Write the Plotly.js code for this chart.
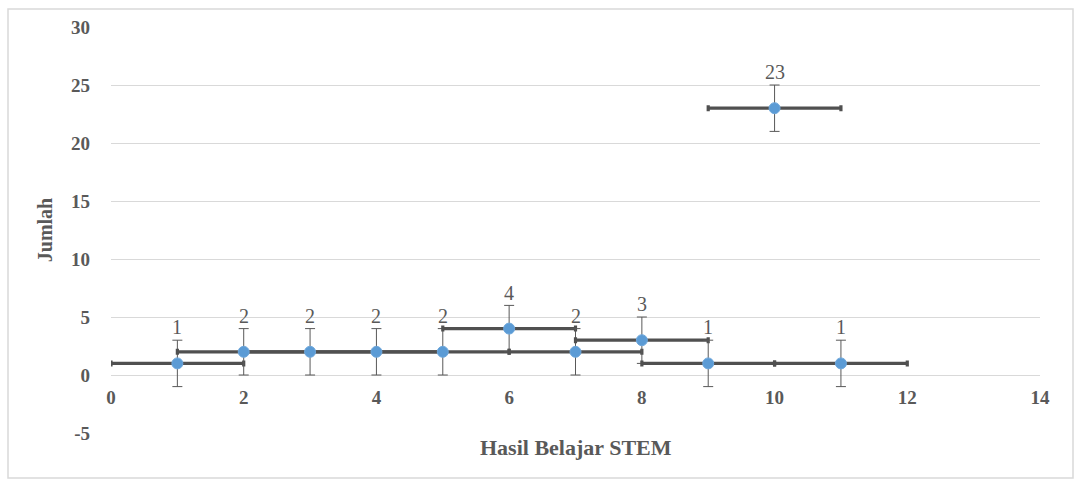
<!DOCTYPE html>
<html>
<head>
<meta charset="utf-8">
<script src="https://cdn.plot.ly/plotly-3.0.1.min.js"></script>
<style>
  html, body { margin: 0; padding: 0; background: #ffffff; }
  #chart { width: 1080px; height: 480px; }
</style>
</head>
<body>
<div id="chart"></div>
<script>
// Score (Hasil Belajar STEM) and count (Jumlah)
const nilai = [1, 2, 3, 4, 5, 6, 7, 8, 9, 10, 11];
const jumlah = [1, 2, 2, 2, 2, 4, 2, 3, 1, 23, 1];
// Symmetric error amounts on each axis
const galatX = 1;
const galatY = 2;

const xTicks = [0, 2, 4, 6, 8, 10, 12, 14];
const yTicks = [-5, 0, 5, 10, 15, 20, 25, 30];

const serif = '"Liberation Serif", "Times New Roman", serif';
const yMin = -5, yMax = 30;

const trace = {
  type: 'scatter',
  mode: 'markers',
  x: nilai,
  y: jumlah,
  marker: { color: '#5b9bd5', size: 11, line: { color: '#6fa8dc', width: 1 } },
  error_x: { type: 'constant', value: galatX, color: '#505050', thickness: 3.2, width: 3 },
  error_y: { type: 'constant', value: galatY, color: '#595959', thickness: 1, width: 5 },
  hoverinfo: 'x+y'
};

// Value labels above each point
const labels = nilai.map((xv, i) => ({
  x: xv, y: jumlah[i], xref: 'x', yref: 'y',
  text: String(jumlah[i]), showarrow: false,
  yshift: 36, yanchor: 'middle',
  font: { family: serif, size: 20, color: '#595959' }
}));

labels.push({
  x: 0.5, y: (433 - 448) / 406, xref: 'paper', yref: 'paper',
  text: '<b>Hasil Belajar STEM</b>', showarrow: false,
  xanchor: 'center', yanchor: 'middle',
  font: { family: serif, size: 22, color: '#595959' }
});

const layout = {
  width: 1080, height: 480,
  margin: { l: 111, r: 40, t: 27, b: 47 },
  paper_bgcolor: '#ffffff', plot_bgcolor: '#ffffff',
  showlegend: false,
  xaxis: {
    range: [0, 14], tickvals: xTicks, ticktext: xTicks.map(v => '<b>' + v + '</b>'),
    showgrid: false, zeroline: false, showline: false, ticks: '',
    anchor: 'free', position: (0 - yMin) / (yMax - yMin),
    ticklabelstandoff: 9,
    tickfont: { family: serif, size: 19, color: '#595959' }
  },
  yaxis: {
    range: [yMin, yMax], tickvals: yTicks, ticktext: yTicks.map(v => '<b>' + v + '</b>'),
    showgrid: true, gridcolor: '#d9d9d9', gridwidth: 1,
    zeroline: false, showline: false, ticks: '',
    ticklabelstandoff: 20,
    tickfont: { family: serif, size: 19, color: '#595959' },
    title: { text: '<b>Jumlah</b>', standoff: 13, font: { family: serif, size: 20, color: '#595959' } }
  },
  annotations: labels,
  shapes: [{
    type: 'rect', xref: 'paper', yref: 'paper',
    x0: (8 - 111) / 929, x1: (1073 - 111) / 929,
    y0: (433 - 478) / 406, y1: (433 - 9) / 406,
    line: { color: '#d9d9d9', width: 1.5 }, fillcolor: 'rgba(0,0,0,0)', layer: 'below'
  }]
};

Plotly.newPlot('chart', [trace], layout, { displayModeBar: false, staticPlot: true });
</script>
</body>
</html>
